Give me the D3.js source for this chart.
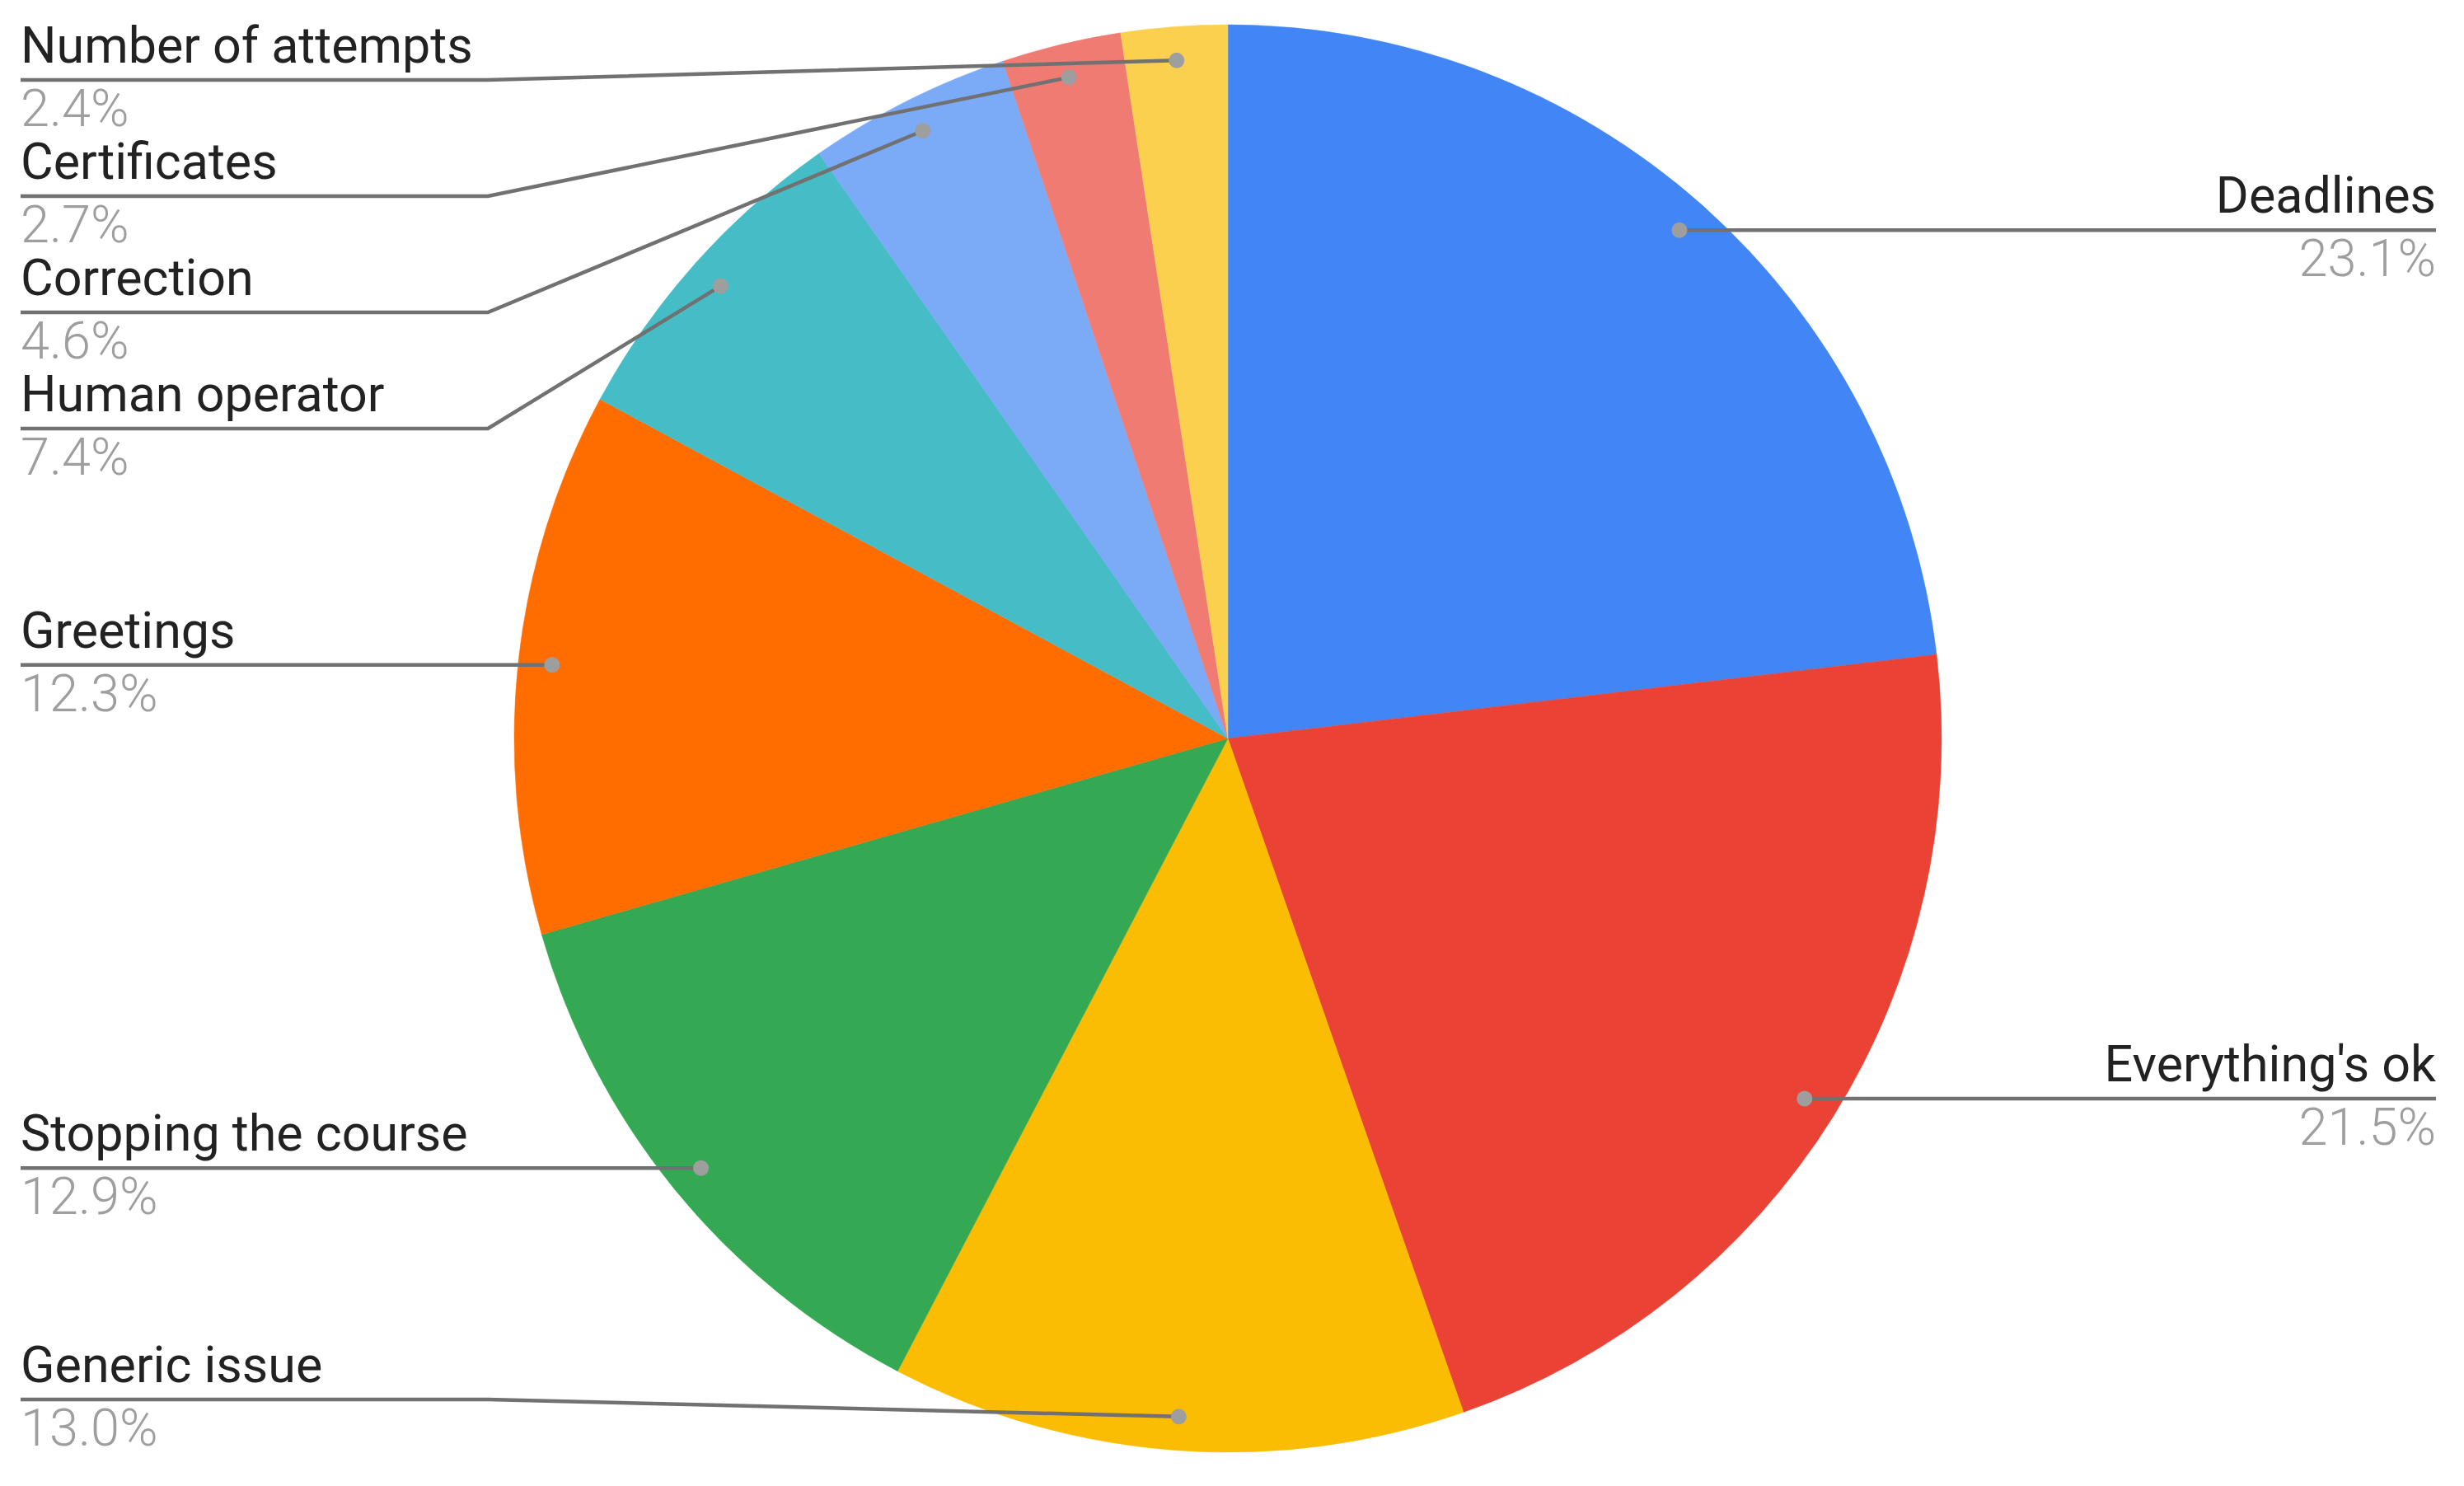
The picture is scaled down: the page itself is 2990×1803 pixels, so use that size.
<!DOCTYPE html>
<html>
<head>
<meta charset="utf-8">
<script src="https://cdn.jsdelivr.net/npm/d3@7"></script>
<style>
  body { margin: 0; background: #fff; }
  text { font-family: Roboto, Arial, sans-serif; }
</style>
</head>
<body>
<script>
// chart data
var categories = ["Deadlines", "Everything's ok", "Generic issue", "Stopping the course",
                  "Greetings", "Human operator", "Correction", "Certificates", "Number of attempts"];
var values = [23.1, 21.5, 13.0, 12.9, 12.3, 7.4, 4.6, 2.7, 2.4];
var colors = ["#4285F4", "#EA4335", "#FBBC04", "#34A853", "#FF6D01",
              "#46BDC6", "#7BAAF7", "#F07B72", "#FCD04F"];

var width = 2990, height = 1803;
var cx = 1490, cy = 896, radius = 866;
var dotRadius = 825;

var svg = d3.select("body").append("svg")
    .attr("width", width)
    .attr("height", height);

var data = categories.map(function(c, i) {
  return {name: c, value: values[i], color: colors[i]};
});

var pie = d3.pie()
    .sort(null)
    .value(function(d) { return d.value; });

var arc = d3.arc()
    .innerRadius(0)
    .outerRadius(radius);

var arcs = pie(data);

var g = svg.append("g")
    .attr("transform", "translate(" + cx + "," + cy + ")");

g.selectAll("path.slice")
    .data(arcs)
    .enter()
    .append("path")
    .attr("class", "slice")
    .attr("d", arc)
    .style("fill", function(d) { return d.data.color; })
    .style("stroke", function(d) { return d.data.color; })
    .style("stroke-width", 0.5);

// anchor point of each label (inside the slice, near the rim)
arcs.forEach(function(d) {
  var a = (d.startAngle + d.endAngle) / 2;
  d.dotX = cx + dotRadius * Math.sin(a);
  d.dotY = cy - dotRadius * Math.cos(a);
  d.side = Math.sin(a) >= 0 ? "right" : "left";
});

// label layout: keep each label at its anchor height, push apart when crowded
var spacing = 141, minY = 97, maxY = 1698;
["left", "right"].forEach(function(side) {
  var items = arcs.filter(function(d) { return d.side === side; })
      .sort(function(a, b) { return a.dotY - b.dotY; });
  var prev = -Infinity;
  items.forEach(function(d) {
    d.labelY = Math.max(d.dotY, minY, prev + spacing);
    prev = d.labelY;
  });
  var next = Infinity;
  items.slice().reverse().forEach(function(d) {
    d.labelY = Math.min(d.labelY, maxY, next - spacing);
    next = d.labelY;
  });
});

var leftX = 25, rightX = 2956, elbowX = 592;

var lineGen = d3.line();

// leader lines
svg.selectAll("path.leader")
    .data(arcs)
    .enter()
    .append("path")
    .attr("class", "leader")
    .attr("d", function(d) {
      if (d.side === "left") {
        return lineGen([[leftX, d.labelY], [elbowX, d.labelY], [d.dotX, d.dotY]]);
      }
      return lineGen([[d.dotX, d.dotY], [rightX, d.labelY]]);
    })
    .style("fill", "none")
    .style("stroke", "#717171")
    .style("stroke-width", 4.5);

svg.selectAll("circle.dot")
    .data(arcs)
    .enter()
    .append("circle")
    .attr("class", "dot")
    .attr("cx", function(d) { return d.dotX; })
    .attr("cy", function(d) { return d.dotY; })
    .attr("r", 9.5)
    .style("fill", "#9E9E9E");

// category names
svg.selectAll("text.name")
    .data(arcs)
    .enter()
    .append("text")
    .attr("class", "name")
    .attr("x", function(d) { return d.side === "left" ? leftX : rightX; })
    .attr("y", function(d) { return d.labelY - 21; })
    .attr("text-anchor", function(d) { return d.side === "left" ? "start" : "end"; })
    .attr("font-size", 61)
    .style("fill", "#222222")
    .text(function(d) { return d.data.name; });

// percentages
var fmt = d3.format(".1f");
svg.selectAll("text.pct")
    .data(arcs)
    .enter()
    .append("text")
    .attr("class", "pct")
    .attr("x", function(d) { return d.side === "left" ? leftX : rightX; })
    .attr("y", function(d) { return d.labelY + 56; })
    .attr("text-anchor", function(d) { return d.side === "left" ? "start" : "end"; })
    .attr("font-size", 63)
    .attr("font-weight", 300)
    .style("fill", "#9E9E9E")
    .text(function(d) { return fmt(d.data.value) + "%"; });
</script>
</body>
</html>
